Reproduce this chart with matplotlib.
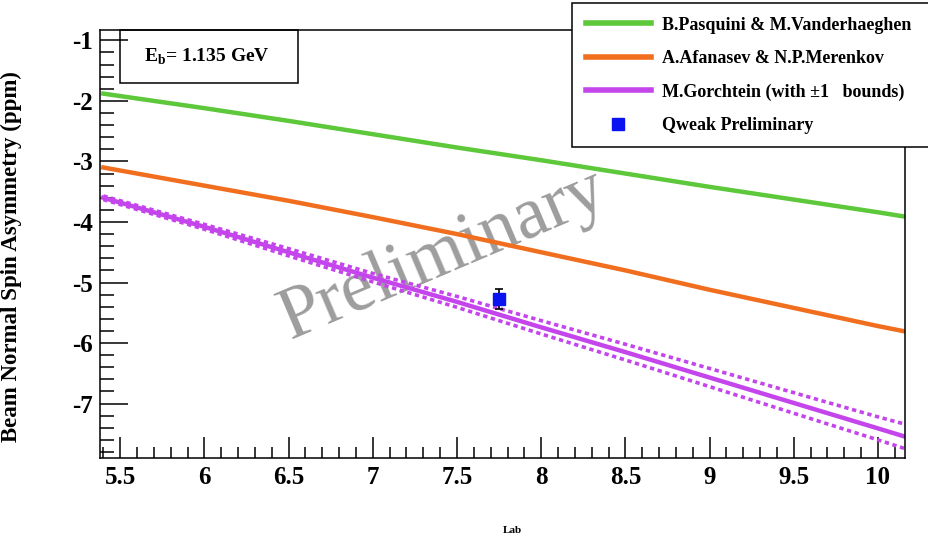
import numpy as np
import matplotlib.pyplot as plt
from matplotlib.ticker import MultipleLocator

# ---------------------------------------------------------
# DATA
# ---------------------------------------------------------
theta = [5.4, 6.0, 6.5, 7.0, 7.5, 8.0, 8.5, 9.0, 9.5, 10.0, 10.2]

pasquini = [-1.88, -2.12, -2.33, -2.55, -2.77, -2.98, -3.20, -3.42, -3.63, -3.84, -3.93]
afanasev = [-3.10, -3.40, -3.65, -3.92, -4.20, -4.50, -4.80, -5.12, -5.42, -5.72, -5.83]
gorchtein = [-3.60, -4.08, -4.50, -4.92, -5.32, -5.74, -6.15, -6.57, -6.99, -7.41, -7.58]
gorch_hi = [-3.57, -4.04, -4.44, -4.85, -5.23, -5.63, -6.02, -6.42, -6.82, -7.22, -7.37]
gorch_lo = [-3.63, -4.12, -4.56, -4.99, -5.41, -5.85, -6.28, -6.72, -7.16, -7.60, -7.78]

qweak_x = [7.75]
qweak_y = [-5.27]
qweak_err = [0.17]

labels = ["B.Pasquini & M.Vanderhaeghen",
          "A.Afanasev & N.P.Merenkov",
          "M.Gorchtein (with \u00b11   bounds)",
          "Qweak Preliminary"]

GREEN = "#5cc83a"
ORANGE = "#f06e1e"
PURPLE = "#c445ec"
BLUE = "#0a14f0"

plt.rcParams['font.family'] = ['Liberation Serif', 'DejaVu Serif']
plt.rcParams['font.weight'] = 'bold'
plt.rcParams['axes.labelweight'] = 'bold'
plt.rcParams['mathtext.fontset'] = 'custom'
plt.rcParams['mathtext.rm'] = 'Liberation Serif:bold'
plt.rcParams['mathtext.bf'] = 'Liberation Serif:bold'

fig = plt.figure(figsize=(9.29, 5.37), dpi=100)
ax = fig.add_axes([0.1076, 0.147, 0.8665, 0.797])

l1, = ax.plot(theta, pasquini, color=GREEN, lw=3.2)
l2, = ax.plot(theta, afanasev, color=ORANGE, lw=3.2)
l3, = ax.plot(theta, gorchtein, color=PURPLE, lw=3.2)
ax.plot(theta, gorch_hi, color=PURPLE, lw=2.6, ls=(0, (1.2, 1.0)))
ax.plot(theta, gorch_lo, color=PURPLE, lw=2.6, ls=(0, (1.2, 1.0)))
ax.errorbar(qweak_x, qweak_y, yerr=qweak_err, fmt='none', ecolor='black',
            elinewidth=1.2, capsize=3, capthick=1.2, zorder=4)
l4, = ax.plot(qweak_x, qweak_y, ls='none', marker='s', ms=9, color=BLUE, zorder=5)

ax.set_xlim(5.38, 10.16)
ax.set_ylim(-7.9, -0.83)

ax.xaxis.set_major_locator(MultipleLocator(0.5))
ax.xaxis.set_minor_locator(MultipleLocator(0.1))
ax.yaxis.set_major_locator(MultipleLocator(1))
ax.yaxis.set_minor_locator(MultipleLocator(0.2))
ax.xaxis.set_major_formatter(plt.FuncFormatter(lambda v, p: f"{v:g}"))
ax.yaxis.set_major_formatter(plt.FuncFormatter(lambda v, p: f"{v:g}".replace("\u2212", "-")))

ax.tick_params(which='both', direction='in', top=False, right=False,
               labelsize=18, width=1.1)
ax.tick_params(axis='y', which='major', length=20, pad=5)
ax.tick_params(axis='y', which='minor', length=10)
ax.tick_params(axis='x', which='major', length=15, pad=6)
ax.tick_params(axis='x', which='minor', length=8)
for s in ax.spines.values():
    s.set_linewidth(1.1)

ax.set_ylabel("Beam Normal Spin Asymmetry (ppm)", fontsize=16.5, fontweight='bold')
ax.yaxis.set_label_coords(-0.097, 0.47)
fig.text(0.552, 0.003, "Lab", fontsize=8, ha='center', va='bottom')

# energy box
fig.text(0.223, 0.894, r"E$_\mathrm{b}$= 1.135 GeV", fontsize=14, ha='center', va='center')
fig.patches.append(plt.Rectangle((0.129, 0.845), 0.192, 0.099, transform=fig.transFigure,
                                 fill=False, ec='black', lw=1.1))

# watermark
ax.text(7.42, -4.55, "Preliminary", fontsize=53, fontweight='normal', color='#8c8c8c',
        alpha=0.85, rotation=23, ha='center', va='center', zorder=1)

leg = fig.legend([l1, l2, l3, l4], labels, loc='upper left',
                 bbox_to_anchor=(0.616, 0.994, 0.384, 0.0), mode='expand',
                 fontsize=13, frameon=True, fancybox=False, edgecolor='black',
                 handlelength=3.6, handletextpad=0.6, labelspacing=0.9,
                 borderpad=0.75, borderaxespad=0, framealpha=1)
leg.get_frame().set_linewidth(1.1)
for h in leg.legend_handles[:3]:
    h.set_linewidth(4)

fig.savefig("out.png", dpi=100)
